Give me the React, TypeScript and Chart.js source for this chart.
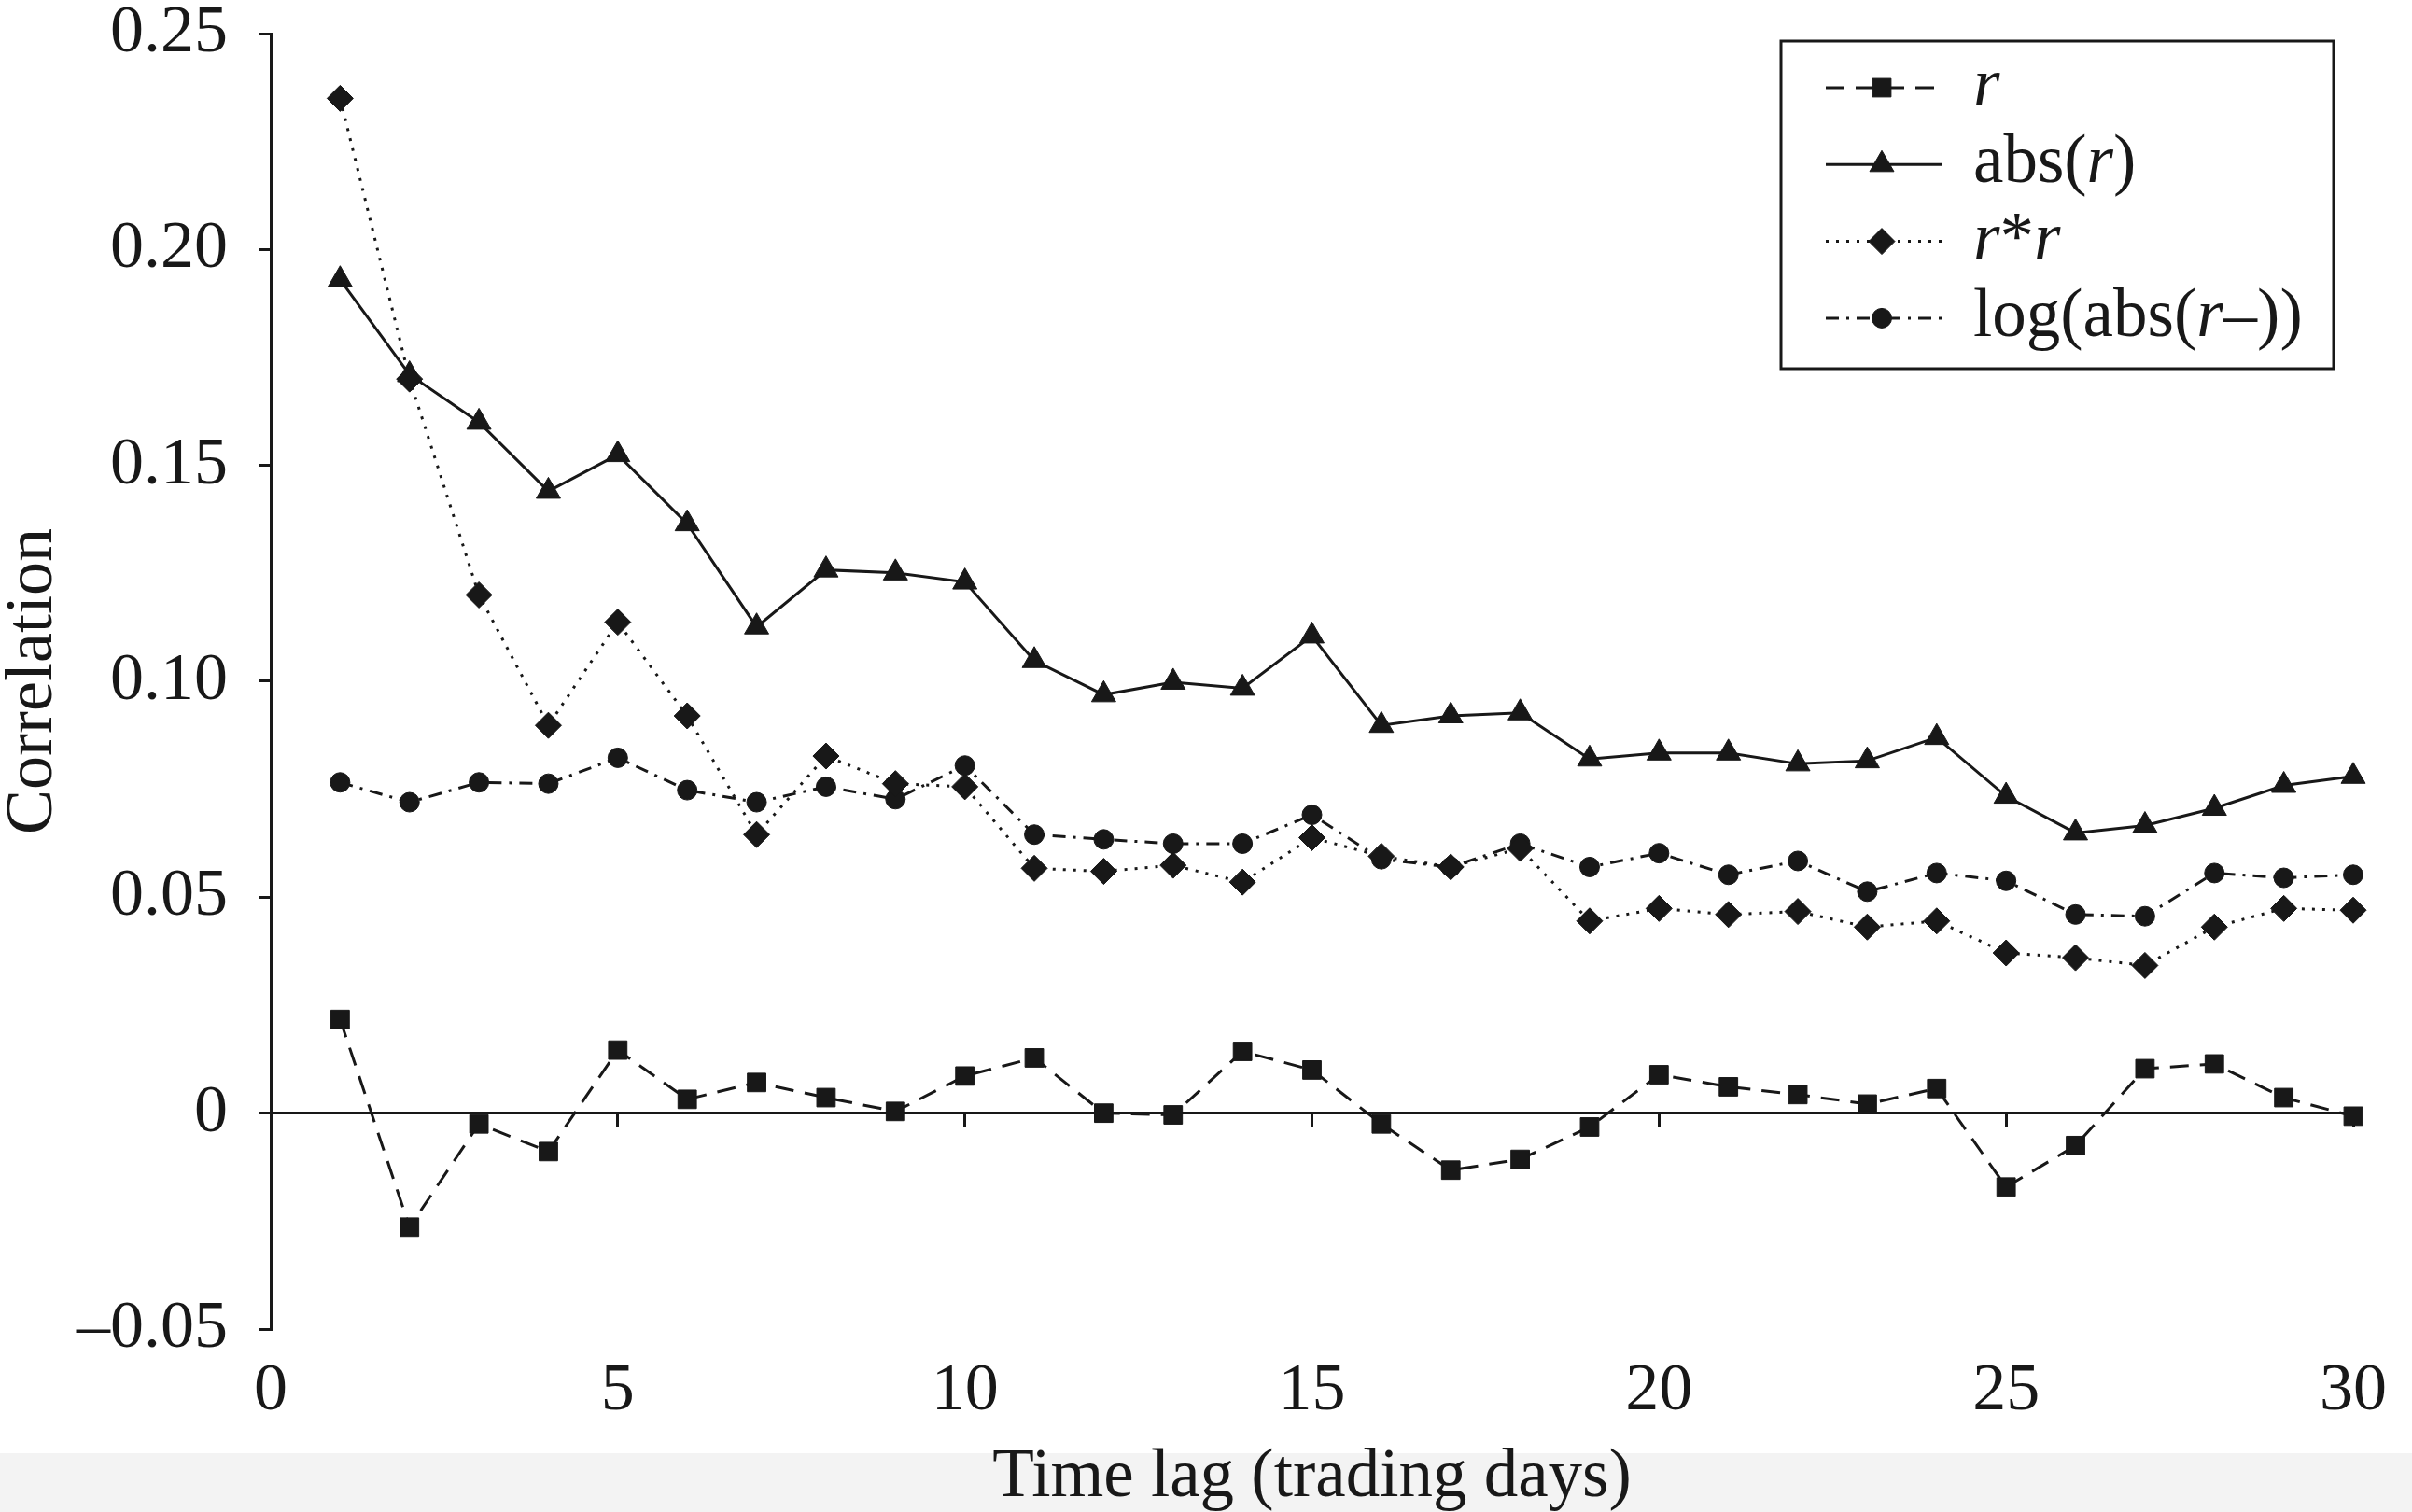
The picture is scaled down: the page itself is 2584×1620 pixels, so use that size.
import React, { useEffect, useRef } from 'react';
import { Chart, registerables } from 'chart.js';
import { drawPoint } from 'chart.js/helpers';

Chart.register(...registerables);

const W = 2584;
const H = 1620;

const lags = [1, 2, 3, 4, 5, 6, 7, 8, 9, 10, 11, 12, 13, 14, 15, 16, 17, 18, 19, 20, 21, 22, 23, 24, 25, 26, 27, 28, 29, 30];

const rValues = [0.0217, -0.0264, -0.0025, -0.0089, 0.0146, 0.0032, 0.0071, 0.0036, 0.0004, 0.0086, 0.0128, 0.0, -0.0004, 0.0143, 0.01, -0.0025, -0.0132, -0.0107, -0.0032, 0.0089, 0.0061, 0.0043, 0.0021, 0.0057, -0.0171, -0.0075, 0.0103, 0.0114, 0.0036, -0.0007];

const absRValues = [0.193, 0.171, 0.16, 0.144, 0.1525, 0.1365, 0.1126, 0.1258, 0.1251, 0.123, 0.1048, 0.0969, 0.0998, 0.0984, 0.1105, 0.0898, 0.092, 0.0927, 0.082, 0.0834, 0.0834, 0.0809, 0.0816, 0.087, 0.0734, 0.0649, 0.0666, 0.0706, 0.0759, 0.078];

const rSquaredValues = [0.235, 0.17, 0.12, 0.0898, 0.1137, 0.092, 0.0645, 0.0827, 0.0763, 0.0756, 0.0567, 0.056, 0.0574, 0.0535, 0.0638, 0.0595, 0.057, 0.0613, 0.0445, 0.0474, 0.046, 0.0467, 0.0431, 0.0445, 0.0371, 0.036, 0.0342, 0.0431, 0.0474, 0.047];

const logAbsValues = [0.0766, 0.072, 0.0766, 0.0763, 0.0823, 0.0748, 0.072, 0.0756, 0.0727, 0.0805, 0.0645, 0.0634, 0.0624, 0.0624, 0.0691, 0.0588, 0.057, 0.0624, 0.057, 0.0602, 0.0552, 0.0584, 0.0513, 0.0556, 0.0538, 0.046, 0.0456, 0.0556, 0.0545, 0.0552];

const seriesNames = ['r', 'abs(r)', 'r*r', 'log(abs(r-))'];

// legend text pieces: [text, italic]
const legendParts: [string, boolean][][] = [
  [['r', true]],
  [['abs(', false], ['r', true], [')', false]],
  [['r', true], ['*', false], ['r', true]],
  [['log(abs(', false], ['r', true], ['\u2013))', false]],
];

const xTickValues = [0, 5, 10, 15, 20, 25, 30];
const yTickValues = [-0.05, 0, 0.05, 0.1, 0.15, 0.2, 0.25];
const yTickLabels = ['\u20130.05', '0', '0.05', '0.10', '0.15', '0.20', '0.25'];

const xTitle = 'Time lag (trading days)';
const yTitle = 'Correlation';

const INK = '#181818';
const FONT = "'Liberation Serif', 'Times New Roman', serif";

const toPoints = (vals: number[]) => lags.map((x, i) => ({ x, y: vals[i] }));

const backgroundPlugin = {
  id: 'pageBackground',
  beforeDraw(chart: any) {
    const { ctx, width, height } = chart;
    ctx.save();
    ctx.fillStyle = '#ffffff';
    ctx.fillRect(0, 0, width, height);
    ctx.fillStyle = '#f3f3f3';
    ctx.fillRect(0, 1557, width, height - 1557);
    ctx.restore();
  },
};

const boxedLegendPlugin = {
  id: 'boxedLegend',
  afterDraw(chart: any) {
    const { ctx, chartArea } = chart;
    const boxRight = chartArea.right - 21;
    const boxLeft = boxRight - 592;
    const boxTop = chartArea.top + 8;
    const boxHeight = 351;
    ctx.save();
    ctx.strokeStyle = INK;
    ctx.lineWidth = 3;
    ctx.setLineDash([]);
    ctx.strokeRect(boxLeft, boxTop, boxRight - boxLeft, boxHeight);

    chart.data.datasets.forEach((ds: any, i: number) => {
      const rowY = boxTop + 50 + i * 82.3;
      const lineStart = boxLeft + 48;
      const lineEnd = boxLeft + 172;
      const markX = boxLeft + 108;
      ctx.save();
      ctx.strokeStyle = ds.borderColor;
      ctx.lineWidth = ds.borderWidth;
      ctx.setLineDash(ds.borderDash || []);
      ctx.beginPath();
      ctx.moveTo(lineStart, rowY);
      ctx.lineTo(lineEnd, rowY);
      ctx.stroke();
      ctx.setLineDash([]);
      ctx.fillStyle = ds.pointBackgroundColor;
      ctx.strokeStyle = ds.pointBorderColor;
      ctx.lineWidth = 1;
      drawPoint(ctx, { pointStyle: ds.pointStyle, radius: ds.pointRadius, rotation: 0, borderWidth: 1 }, markX, rowY);
      ctx.restore();

      let tx = boxLeft + 206;
      ctx.fillStyle = INK;
      ctx.textBaseline = 'middle';
      ctx.textAlign = 'left';
      legendParts[i].forEach(([text, italic]) => {
        ctx.font = `${italic ? 'italic ' : ''}73px ${FONT}`;
        ctx.fillText(text, tx, rowY);
        tx += ctx.measureText(text).width;
      });
    });
    ctx.restore();
  },
};

export default function App() {
  const canvasRef = useRef<HTMLCanvasElement>(null);

  useEffect(() => {
    const canvas = canvasRef.current;
    if (!canvas) return;

    const common = {
      borderColor: INK,
      pointBackgroundColor: INK,
      pointBorderColor: INK,
      borderWidth: 3,
      pointBorderWidth: 1,
      tension: 0,
      clip: false,
    };

    const chart = new Chart(canvas, {
      type: 'line',
      data: {
        datasets: [
          { ...common, label: seriesNames[0], data: toPoints(rValues), borderDash: [20, 12], pointStyle: 'rect', pointRadius: 14 },
          { ...common, label: seriesNames[1], data: toPoints(absRValues), borderDash: [], pointStyle: 'triangle', pointRadius: 15 },
          { ...common, label: seriesNames[2], data: toPoints(rSquaredValues), borderDash: [3, 8], pointStyle: 'rectRot', pointRadius: 14 },
          { ...common, label: seriesNames[3], data: toPoints(logAbsValues), borderDash: [14, 8, 3, 8], pointStyle: 'circle', pointRadius: 10.5 },
        ] as any,
      },
      options: {
        responsive: false,
        animation: false,
        devicePixelRatio: 1,
        layout: { padding: { top: 36, right: 63, left: 0, bottom: 0 } },
        plugins: {
          legend: { display: false },
          tooltip: { enabled: false },
        },
        scales: {
          x: {
            type: 'linear',
            position: 'bottom',
            min: 0,
            max: 30,
            afterBuildTicks: (scale: any) => {
              scale.ticks = xTickValues.map((v) => ({ value: v }));
            },
            ticks: {
              color: INK,
              font: { family: FONT, size: 72, lineHeight: 1.2 },
              padding: 24,
              maxRotation: 0,
              autoSkip: false,
            },
            grid: { display: false, drawTicks: false, tickLength: 0 },
            border: { display: false },
            title: {
              display: true,
              text: xTitle,
              color: INK,
              font: { family: FONT, size: 73, lineHeight: 1 },
              padding: 0,
            },
            afterFit: (scale: any) => {
              scale.height = 196;
            },
          },
          xZero: {
            type: 'linear',
            position: { y: 0 },
            min: 0,
            max: 30,
            afterBuildTicks: (scale: any) => {
              scale.ticks = xTickValues.map((v) => ({ value: v }));
            },
            ticks: { display: false },
            grid: {
              display: true,
              drawOnChartArea: false,
              drawTicks: true,
              tickLength: 14,
              lineWidth: 3,
              color: INK,
            },
            border: { display: true, width: 3, color: INK },
          },
          y: {
            type: 'linear',
            position: 'left',
            min: -0.05,
            max: 0.25,
            afterBuildTicks: (scale: any) => {
              scale.ticks = yTickValues.map((v) => ({ value: v }));
            },
            ticks: {
              color: INK,
              font: { family: FONT, size: 72, lineHeight: 0.01 },
              padding: 34,
              autoSkip: false,
              callback: (value: any) => {
                const idx = yTickValues.findIndex((v) => Math.abs(v - Number(value)) < 1e-9);
                return idx >= 0 ? yTickLabels[idx] : '';
              },
            },
            grid: {
              display: true,
              drawOnChartArea: false,
              drawTicks: true,
              tickLength: 12,
              lineWidth: 3,
              color: INK,
            },
            border: { display: true, width: 3, color: INK },
            title: {
              display: true,
              text: yTitle,
              color: INK,
              font: { family: FONT, size: 72, lineHeight: 1 },
              padding: 0,
            },
            afterFit: (scale: any) => {
              scale.width = 290;
            },
          },
        },
      } as any,
      plugins: [backgroundPlugin, boxedLegendPlugin],
    });

    return () => chart.destroy();
  }, []);

  return (
    <div style={{ position: 'fixed', left: 0, top: 0, width: W, height: H, background: '#ffffff' }}>
      <canvas ref={canvasRef} width={W} height={H} style={{ width: W, height: H, display: 'block' }} />
    </div>
  );
}
